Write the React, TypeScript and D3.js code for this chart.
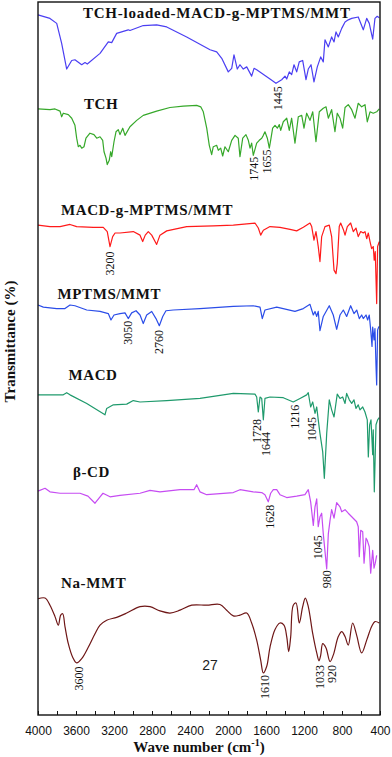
import * as d3 from 'd3';
import { useEffect, useRef } from 'react';

const W = 392;
const H = 757;

// spectra: wavenumber (cm-1) and transmittance (offset, a.u.)
const tchLoadedWn = [4000, 3874, 3803, 3751, 3698, 3645, 3611, 3540, 3505, 3481, 3347, 3260, 3224, 3172, 3050, 3032, 2892, 2751, 2645, 2435, 2189, 2119, 2066, 1997, 1961, 1937, 1902, 1874, 1839, 1803, 1751, 1726, 1698, 1558, 1495, 1435, 1400, 1382, 1355, 1330, 1305, 1277, 1250, 1214, 1179, 1155, 1126, 1095, 1060, 1024, 997, 979, 944, 909, 884, 863, 839, 803, 768, 734, 698, 629, 576, 540, 513, 477, 453, 429, 408];
const tchLoadedT = [98.2, 97.7, 97.0, 94.2, 90.6, 91.8, 91.9, 91.2, 91.5, 91.3, 92.8, 94.4, 94.3, 95.6, 96.1, 96.0, 96.7, 96.8, 96.5, 95.1, 93.3, 93.0, 92.1, 90.2, 90.7, 92.6, 90.6, 91.2, 90.6, 90.9, 89.6, 90.7, 90.5, 89.2, 88.6, 89.1, 89.6, 89.2, 90.2, 89.8, 91.2, 90.2, 91.6, 91.8, 89.1, 90.6, 91.2, 88.8, 90.9, 92.3, 91.6, 94.7, 93.7, 95.1, 94.4, 95.8, 95.1, 96.3, 97.2, 97.5, 97.7, 97.9, 96.1, 97.7, 97.0, 94.8, 97.7, 98.0, 97.8];

const tchWn = [4000, 3874, 3821, 3768, 3751, 3734, 3681, 3645, 3611, 3593, 3576, 3558, 3540, 3516, 3495, 3453, 3411, 3382, 3347, 3319, 3305, 3284, 3271, 3250, 3235, 3224, 3200, 3179, 3155, 3137, 3108, 3084, 3032, 2961, 2892, 2751, 2611, 2471, 2330, 2287, 2260, 2224, 2197, 2172, 2155, 2119, 2102, 2077, 2056, 2032, 1997, 1961, 1926, 1892, 1874, 1845, 1811, 1786, 1768, 1751, 1734, 1698, 1671, 1645, 1628, 1611, 1586, 1565, 1551, 1530, 1505, 1481, 1460, 1445, 1418, 1382, 1355, 1330, 1295, 1260, 1224, 1200, 1172, 1137, 1108, 1074, 1039, 997, 968, 944, 909, 874, 850, 821, 793, 768, 734, 698, 663, 629, 593, 558, 534, 505, 471, 435, 408];
const tchT = [85.0, 84.9, 85.0, 84.7, 83.9, 84.4, 84.2, 83.7, 82.7, 80.9, 79.7, 79.9, 79.5, 79.7, 80.9, 81.6, 81.4, 80.9, 81.1, 80.6, 79.0, 78.1, 77.2, 77.8, 79.0, 78.3, 80.4, 81.8, 82.1, 81.4, 82.3, 81.3, 82.5, 83.4, 84.1, 84.7, 85.2, 85.4, 85.5, 85.3, 84.6, 82.3, 79.9, 78.6, 79.7, 79.9, 79.2, 79.5, 78.4, 79.7, 79.0, 80.6, 81.3, 80.9, 78.3, 80.9, 81.4, 80.6, 79.5, 80.2, 78.5, 80.2, 80.6, 80.9, 81.3, 81.8, 80.9, 79.5, 80.6, 82.3, 82.7, 82.3, 82.8, 82.0, 83.2, 83.7, 82.0, 83.7, 80.2, 83.9, 84.1, 82.3, 84.4, 83.4, 84.6, 80.4, 84.6, 85.1, 85.3, 83.7, 84.9, 81.8, 84.4, 83.7, 82.3, 85.2, 85.6, 84.9, 83.7, 85.8, 85.3, 85.6, 83.2, 84.6, 84.4, 84.6, 85.0];

const macdGWn = [4000, 3874, 3768, 3663, 3593, 3418, 3313, 3271, 3242, 3214, 3189, 3137, 2997, 2926, 2898, 2871, 2839, 2803, 2751, 2716, 2645, 2435, 2155, 1944, 1716, 1681, 1656, 1628, 1558, 1453, 1347, 1277, 1207, 1137, 1119, 1095, 1074, 1060, 1050, 1032, 1014, 979, 934, 909, 884, 863, 850, 829, 814, 786, 768, 744, 709, 681, 653, 629, 603, 576, 558, 540, 523, 505, 488, 471, 461, 450, 435, 425, 408];
const macdGT = [68.7, 68.5, 68.5, 68.8, 68.5, 68.4, 68.4, 67.8, 65.7, 67.1, 67.6, 67.6, 67.8, 67.3, 66.4, 67.3, 67.8, 67.3, 66.0, 67.3, 67.9, 68.5, 68.6, 68.7, 69.0, 68.3, 67.3, 68.0, 68.5, 68.4, 68.1, 67.9, 68.4, 69.0, 68.5, 66.6, 67.8, 66.6, 65.7, 63.6, 67.1, 68.5, 68.7, 67.1, 62.4, 61.9, 63.3, 68.5, 69.0, 68.1, 67.3, 68.5, 69.0, 67.8, 68.3, 67.1, 67.8, 67.6, 67.8, 66.8, 67.6, 66.4, 65.4, 65.7, 63.8, 65.0, 57.7, 65.7, 66.4];

const mptmsWn = [4000, 3944, 3874, 3803, 3716, 3663, 3611, 3487, 3347, 3260, 3232, 3200, 3137, 3084, 3050, 3014, 2968, 2926, 2892, 2856, 2803, 2758, 2723, 2687, 2653, 2576, 2295, 1944, 1734, 1663, 1639, 1611, 1487, 1295, 1207, 1137, 1102, 1084, 1066, 1050, 1032, 997, 934, 892, 856, 821, 786, 751, 709, 674, 645, 618, 593, 576, 547, 530, 513, 498, 484, 477, 463, 453, 442, 435, 425, 411];
const mptmsT = [57.5, 57.2, 57.1, 57.0, 57.0, 57.5, 57.4, 56.8, 56.6, 56.3, 55.4, 56.1, 56.3, 56.4, 55.6, 56.4, 56.7, 56.1, 54.9, 56.1, 56.6, 55.6, 54.6, 55.9, 56.7, 56.8, 57.0, 57.3, 57.4, 57.2, 55.6, 56.8, 57.2, 56.6, 57.0, 57.6, 56.1, 56.6, 55.9, 56.6, 53.9, 55.9, 57.4, 56.1, 54.1, 56.1, 56.8, 55.9, 57.4, 56.3, 56.8, 55.6, 56.1, 55.6, 56.1, 55.4, 56.1, 54.0, 51.7, 54.4, 52.6, 54.2, 48.9, 46.3, 54.0, 54.5];

const macdWn = [4000, 3874, 3734, 3698, 3663, 3487, 3295, 3277, 3207, 3066, 2997, 2926, 2645, 2295, 1944, 1716, 1698, 1681, 1663, 1645, 1628, 1611, 1558, 1418, 1313, 1242, 1172, 1155, 1130, 1108, 1084, 1066, 1050, 1032, 1003, 986, 961, 934, 909, 884, 850, 821, 793, 768, 751, 723, 698, 674, 653, 629, 611, 582, 558, 534, 523, 509, 495, 477, 471, 460, 442, 425, 408];
const macdT = [44.9, 44.9, 44.9, 45.2, 44.9, 43.7, 42.1, 43.0, 43.5, 43.6, 44.1, 43.9, 44.1, 44.4, 45.1, 45.0, 44.6, 42.5, 44.6, 44.4, 41.4, 44.4, 44.6, 44.5, 43.9, 44.4, 44.9, 45.2, 43.2, 43.9, 42.3, 43.2, 41.4, 39.5, 36.9, 33.2, 39.5, 44.2, 42.8, 41.8, 45.0, 44.4, 44.6, 43.7, 45.1, 44.2, 43.7, 44.2, 43.0, 43.5, 42.8, 43.2, 42.5, 41.4, 36.2, 40.7, 41.4, 36.5, 40.0, 31.3, 40.7, 41.4, 41.7];

const bcdWn = [4000, 3926, 3874, 3768, 3558, 3474, 3400, 3347, 3316, 3242, 3137, 2926, 2821, 2716, 2505, 2358, 2330, 2295, 2224, 1944, 1874, 1734, 1645, 1611, 1576, 1551, 1523, 1487, 1453, 1382, 1277, 1190, 1155, 1130, 1102, 1084, 1066, 1050, 1032, 1014, 997, 961, 944, 926, 909, 884, 856, 821, 803, 768, 734, 646, 629, 618, 603, 582, 568, 547, 534, 513, 498, 477, 463, 450, 435];
const bcdT = [31.4, 31.8, 31.3, 31.1, 31.1, 30.7, 29.7, 30.6, 31.1, 30.6, 30.8, 31.1, 31.5, 31.3, 31.6, 31.6, 32.3, 31.3, 30.9, 31.2, 31.6, 31.3, 31.2, 30.9, 29.9, 31.1, 31.6, 31.6, 30.9, 30.5, 30.7, 30.9, 31.6, 29.9, 26.6, 29.2, 30.3, 26.4, 27.8, 28.3, 25.4, 20.5, 25.4, 27.3, 28.8, 27.6, 29.8, 29.2, 28.5, 28.8, 28.3, 27.1, 26.4, 22.2, 25.9, 25.7, 21.3, 24.8, 24.5, 23.6, 19.9, 23.1, 20.6, 21.3, 22.4];

const nammtWn = [4000, 3926, 3874, 3821, 3786, 3761, 3740, 3716, 3681, 3635, 3593, 3540, 3471, 3400, 3347, 3277, 3172, 3066, 2926, 2821, 2716, 2611, 2505, 2382, 2224, 2084, 2014, 1944, 1874, 1803, 1751, 1698, 1656, 1628, 1593, 1558, 1505, 1453, 1411, 1382, 1361, 1340, 1313, 1284, 1250, 1214, 1186, 1155, 1108, 1066, 1042, 1024, 1003, 968, 926, 892, 839, 803, 768, 734, 688, 646, 593, 540, 488, 453, 408];
const nammtT = [16.3, 16.4, 15.4, 13.8, 12.6, 14.0, 14.2, 12.4, 10.0, 8.1, 7.3, 7.9, 9.5, 11.4, 12.6, 13.3, 13.7, 14.3, 15.2, 15.2, 14.6, 14.3, 14.7, 15.4, 15.4, 15.5, 14.7, 13.9, 14.0, 14.3, 12.9, 10.5, 7.7, 5.9, 6.8, 9.5, 12.0, 12.9, 12.6, 11.0, 8.9, 11.0, 15.4, 15.7, 12.9, 15.2, 16.4, 15.2, 11.4, 8.7, 7.6, 8.4, 10.0, 9.4, 7.5, 8.4, 11.0, 11.7, 11.0, 9.8, 12.9, 11.2, 8.7, 10.5, 12.4, 13.1, 12.9];

const seriesNames = ['TCH-loaded-MACD-g-MPTMS/MMT', 'TCH', 'MACD-g-MPTMS/MMT', 'MPTMS/MMT', 'MACD', 'β-CD', 'Na-MMT'];
const xTicks = [4000, 3600, 3200, 2800, 2400, 2000, 1600, 1200, 800, 400];

// band labels: text, where it sits (cm-1) and the level of its top end
const peakText = ['1445', '1745', '1655', '3200', '3050', '2760', '1728', '1644', '1216', '1045', '1628', '1045', '980', '3600', '1610', '1033', '920'];
const peakWn = [1477, 1726, 1593, 3242, 3050, 2723, 1690, 1595, 1290, 1119, 1558, 1050, 958, 3568, 1611, 1032, 902];
const peakTop = [88.2, 78.3, 79.3, 65.0, 55.3, 54.0, 41.5, 39.7, 43.5, 41.8, 29.5, 25.2, 20.3, 6.8, 5.6, 7.0, 7.0];

const colors = ['#4b3ff2', '#36a82a', '#ff1a1a', '#2b4de8', '#1f9a6c', '#c64cf2', '#6e1616'];
const titlePos = [[83, 18], [84, 109], [61, 215], [57.5, 299], [68.5, 380], [73, 477], [61, 587.5]];

function App() {
  const ref = useRef<SVGSVGElement>(null);

  useEffect(() => {
    const svg = d3.select(ref.current);
    svg.selectAll('*').remove();

    const margin = { top: 2, right: 12, bottom: 42, left: 38 };
    const x = d3.scaleLinear().domain([4000, 400]).range([margin.left, W - margin.right]);
    const y = d3.scaleLinear().domain([0, 100]).range([H - margin.bottom, margin.top]);

    svg.append('rect').attr('width', W).attr('height', H).attr('fill', '#fff');

    const spectra = [
      [tchLoadedWn, tchLoadedT],
      [tchWn, tchT],
      [macdGWn, macdGT],
      [mptmsWn, mptmsT],
      [macdWn, macdT],
      [bcdWn, bcdT],
      [nammtWn, nammtT]
    ];

    spectra.forEach(([wn, t], i) => {
      const line = d3.line<[number, number]>()
        .x(d => x(d[0]))
        .y(d => y(d[1]))
        .curve(i === 6 ? d3.curveCatmullRom.alpha(0.5) : d3.curveLinear);
      svg.append('path')
        .datum(d3.zip(wn, t) as [number, number][])
        .attr('d', line)
        .attr('fill', 'none')
        .attr('stroke', colors[i])
        .attr('stroke-width', 1.2)
        .attr('stroke-linejoin', 'round');
    });

    // series names
    seriesNames.forEach((name, i) => {
      svg.append('text')
        .attr('x', titlePos[i][0])
        .attr('y', titlePos[i][1])
        .attr('font-family', '"Liberation Serif", "DejaVu Serif", serif')
        .attr('font-weight', 'bold')
        .attr('font-size', 15)
        .attr('letter-spacing', i === 0 ? 0.75 : 0.6)
        .attr('fill', '#111')
        .text(name);
    });

    // band labels
    peakText.forEach((txt, i) => {
      svg.append('text')
        .attr('transform', `translate(${x(peakWn[i])},${y(peakTop[i])}) rotate(-90)`)
        .attr('text-anchor', 'end')
        .attr('dominant-baseline', 'central')
        .attr('font-family', '"Liberation Serif", serif')
        .attr('font-size', 12)
        .attr('fill', '#111')
        .text(txt);
    });

    svg.append('text')
      .attr('x', x(2190))
      .attr('y', y(6.3))
      .attr('text-anchor', 'middle')
      .attr('font-family', '"Liberation Sans", Arial, sans-serif')
      .attr('font-size', 14)
      .attr('fill', '#222')
      .text('27');

    // frame
    svg.append('rect')
      .attr('x', margin.left)
      .attr('y', margin.top)
      .attr('width', W - margin.left - margin.right)
      .attr('height', H - margin.top - margin.bottom)
      .attr('fill', 'none')
      .attr('stroke', '#111')
      .attr('stroke-width', 1.4);

    // bottom axis: inner ticks every 200, labels every 400
    const minor = d3.range(4000, 399, -200);
    svg.append('g')
      .attr('transform', `translate(0,${H - margin.bottom})`)
      .call(d3.axisBottom(x).tickValues(minor).tickSize(-4).tickFormat(() => ''))
      .call(g => g.select('.domain').remove())
      .selectAll('line').attr('stroke', '#111');

    svg.append('g')
      .attr('transform', `translate(0,${H - margin.bottom})`)
      .call(d3.axisBottom(x).tickValues(xTicks).tickSize(0).tickPadding(11).tickFormat(d3.format('d')))
      .call(g => g.select('.domain').remove())
      .selectAll('text')
      .attr('font-family', '"Liberation Sans", Arial, sans-serif')
      .attr('font-size', 12)
      .attr('fill', '#111');

    // axis titles
    const xt = svg.append('text')
      .attr('x', 199)
      .attr('y', 752)
      .attr('text-anchor', 'middle')
      .attr('font-family', '"Liberation Serif", serif')
      .attr('font-weight', 'bold')
      .attr('font-size', 15)
      .attr('fill', '#111');
    xt.append('tspan').text('Wave number (cm');
    xt.append('tspan').attr('font-size', 10).attr('dy', -6).text('-1');
    xt.append('tspan').attr('dy', 6).text(')');

    svg.append('text')
      .attr('transform', `translate(15,${(margin.top + H - margin.bottom) / 2 - 17}) rotate(-90)`)
      .attr('text-anchor', 'middle')
      .attr('font-family', '"Liberation Serif", serif')
      .attr('font-weight', 'bold')
      .attr('font-size', 15)
      .attr('fill', '#111')
      .text('Transmittance (%)');
  }, []);

  return (
    <svg
      ref={ref}
      width={W}
      height={H}
      style={{ position: 'absolute', left: 0, top: 0, display: 'block' }}
    />
  );
}

export default App;
